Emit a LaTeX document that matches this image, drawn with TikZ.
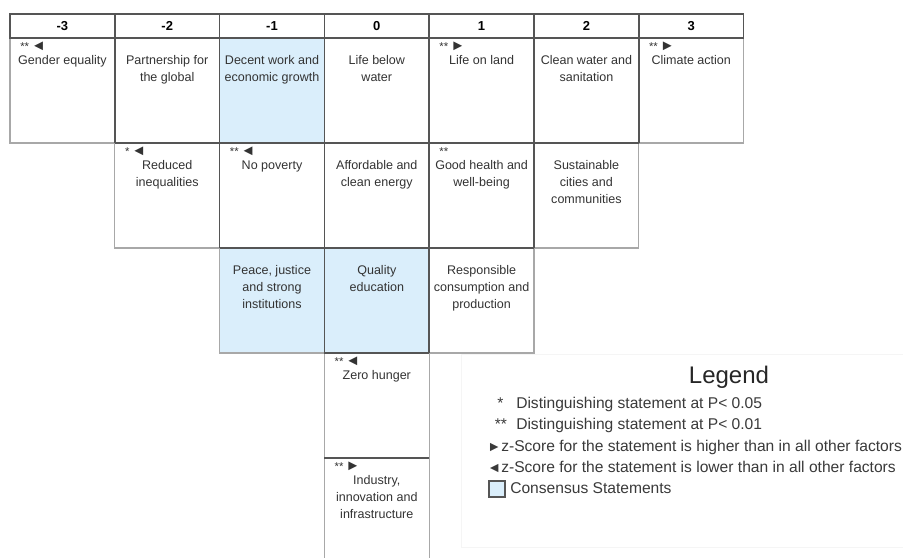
\documentclass[tikz,border=0pt]{standalone}
\usepackage{fontspec}
\setmainfont{Liberation Sans}
\usetikzlibrary{calc}
\definecolor{gridlight}{HTML}{A8A8A8}
\definecolor{griddark}{HTML}{555555}
\definecolor{consensus}{HTML}{DAEEFB}
\definecolor{txt}{HTML}{333333}
\definecolor{legtxt}{HTML}{3A3A3A}
\newcommand{\twostars}{{\fontsize{8.5}{9}\selectfont **}}
\newcommand{\onestar}{{\fontsize{8.5}{9}\selectfont *}}
\newcommand{\trisz}{\fontsize{11}{11}\selectfont}
\begin{document}
\begin{tikzpicture}[x=0.75pt,y=-0.75pt,
  cell/.style={draw=gridlight, line width=0.9pt, minimum width=78.6pt, minimum height=78.75pt, inner sep=0pt, outer sep=0pt},
  cons/.style={fill=consensus},
  head/.style={draw=griddark, line width=1.1pt, minimum width=78.6pt, minimum height=18pt, inner sep=0pt, outer sep=0pt, font=\fontsize{9.75}{11}\selectfont\bfseries},
  darkline/.style={draw=griddark, line width=1.1pt},
  lbl/.style={anchor=north, align=center, inner sep=0pt, text=txt, font=\fontsize{9.4}{12.75}\selectfont},
  sigmark/.style={anchor=base west, inner sep=0pt, text=txt},
  legsym/.style={anchor=base west, inner sep=0pt, text=legtxt, font=\fontsize{11.7}{13}\selectfont},
  legtri/.style={anchor=base west, inner sep=0pt, text=legtxt, font=\fontsize{10.5}{11}\selectfont},
  legtext/.style={anchor=base west, inner sep=0pt, text=legtxt, font=\fontsize{11.7}{13}\selectfont}]
\useasboundingbox (0,0) rectangle (903,557);
\clip (0,0) rectangle (903,557);
\fill[white] (0,0) rectangle (903,557);

% header
\node[head] (h1) at (62.4,26) {-3};
\node[head] (h2) at (167.2,26) {-2};
\node[head] (h3) at (272,26) {-1};
\node[head] (h4) at (376.8,26) {0};
\node[head] (h5) at (481.6,26) {1};
\node[head] (h6) at (586.4,26) {2};
\node[head] (h7) at (691.2,26) {3};

% row 1
\node[cell] (a1) at (62.4,90.5) {};
\node[cell] (a2) at (167.2,90.5) {};
\node[cell,cons] (a3) at (272,90.5) {};
\node[cell] (a4) at (376.8,90.5) {};
\node[cell] (a5) at (481.6,90.5) {};
\node[cell] (a6) at (586.4,90.5) {};
\node[cell] (a7) at (691.2,90.5) {};
% row 2
\node[cell] (b2) at (167.2,195.5) {};
\node[cell] (b3) at (272,195.5) {};
\node[cell] (b4) at (376.8,195.5) {};
\node[cell] (b5) at (481.6,195.5) {};
\node[cell] (b6) at (586.4,195.5) {};
% row 3
\node[cell,cons] (c3) at (272,300.5) {};
\node[cell,cons] (c4) at (376.8,300.5) {};
\node[cell] (c5) at (481.6,300.5) {};
% rows 4, 5
\node[cell] (d4) at (376.8,405.5) {};
\node[cell] (e4) at (376.8,510.5) {};

% shared edges (darker)
\foreach \n in {a2,a3,a4,a5,a6,a7,b3,b4,b5,b6,c4,c5}
  \draw[darkline] (\n.north west) -- (\n.south west);
\draw[darkline] (b2.north west) -- (b6.north east);
\draw[darkline] (c3.north west) -- (c5.north east);
\draw[darkline] (d4.north west) -- (d4.north east);
\draw[darkline] (e4.north west) -- (e4.north east);
\foreach \n in {h1,h2,h3,h4,h5,h6,h7}
  \draw[darkline] (\n.north west) rectangle (\n.south east);

% labels
\node[lbl] (ta1) at ($(a1.north)+(0,17.5)$) {Gender equality};
\node[lbl] (ta2) at ($(a2.north)+(0,17.5)$) {Partnership for\\the global};
\node[lbl] (ta3) at ($(a3.north)+(0,17.5)$) {Decent work and\\economic growth};
\node[lbl] (ta4) at ($(a4.north)+(0,17.5)$) {Life below\\water};
\node[lbl] (ta5) at ($(a5.north)+(0,17.5)$) {Life on land};
\node[lbl] (ta6) at ($(a6.north)+(0,17.5)$) {Clean water and\\sanitation};
\node[lbl] (ta7) at ($(a7.north)+(0,17.5)$) {Climate action};
\node[lbl] (tb2) at ($(b2.north)+(0,17.5)$) {Reduced\\inequalities};
\node[lbl] (tb3) at ($(b3.north)+(0,17.5)$) {No poverty};
\node[lbl] (tb4) at ($(b4.north)+(0,17.5)$) {Affordable and\\clean energy};
\node[lbl] (tb5) at ($(b5.north)+(0,17.5)$) {Good health and\\well-being};
\node[lbl] (tb6) at ($(b6.north)+(0,17.5)$) {Sustainable\\cities and\\communities};
\node[lbl] (tc3) at ($(c3.north)+(0,17.5)$) {Peace, justice\\and strong\\institutions};
\node[lbl] (tc4) at ($(c4.north)+(0,17.5)$) {Quality\\education};
\node[lbl] (tc5) at ($(c5.north)+(0,17.5)$) {Responsible\\consumption and\\production};
\node[lbl] (td4) at ($(d4.north)+(0,17.5)$) {Zero hunger};
\node[lbl] (te4) at ($(e4.north)+(0,17.5)$) {Industry,\\innovation and\\infrastructure};

% markers
\node[sigmark] (ma1) at ($(a1.north west)+(10,12.5)$) {\twostars\,{\trisz ◄}};
\node[sigmark] (ma5) at ($(a5.north west)+(10,12.5)$) {\twostars\,{\trisz ►}};
\node[sigmark] (ma7) at ($(a7.north west)+(10,12.5)$) {\twostars\,{\trisz ►}};
\node[sigmark] (mb2) at ($(b2.north west)+(10,12.5)$) {\onestar\,{\trisz ◄}};
\node[sigmark] (mb3) at ($(b3.north west)+(10,12.5)$) {\twostars\,{\trisz ◄}};
\node[sigmark] (mb5) at ($(b5.north west)+(10,12.5)$) {\twostars};
\node[sigmark] (md4) at ($(d4.north west)+(10,12.5)$) {\twostars\,{\trisz ◄}};
\node[sigmark] (me4) at ($(e4.north west)+(10,12.5)$) {\twostars\,{\trisz ►}};

% legend
\node[draw=black!4, line width=0.6pt, minimum width=336.75pt, minimum height=144.75pt, inner sep=0pt] (legbox) at (685.5,450.5) {};
\node[inner sep=0pt, text=black!85, font=\fontsize{18}{20}\selectfont] (legtitle) at (729,377) {Legend};
\node[legsym] (s1) at (497,408.5) {*};
\node[legtext] (l1) at (516,408.5) {Distinguishing statement at P< 0.05};
\node[legsym] (s2) at (494.5,429.8) {**};
\node[legtext] (l2) at (516,429.8) {Distinguishing statement at P< 0.01};
\node[legtri] (s3) at (487,451.1) {►};
\node[legtext] (l3) at (501,451.1) {z-Score for the statement is higher than in all other factors};
\node[legtri] (s4) at (487,472.4) {◄};
\node[legtext] (l4) at (501,472.4) {z-Score for the statement is lower than in all other factors};
\node[draw=griddark, line width=1.1pt, fill=consensus, minimum size=12pt, inner sep=0pt] (s5) at (497,489) {};
\node[legtext] (l5) at (510,493.7) {Consensus Statements};
\end{tikzpicture}
\end{document}
